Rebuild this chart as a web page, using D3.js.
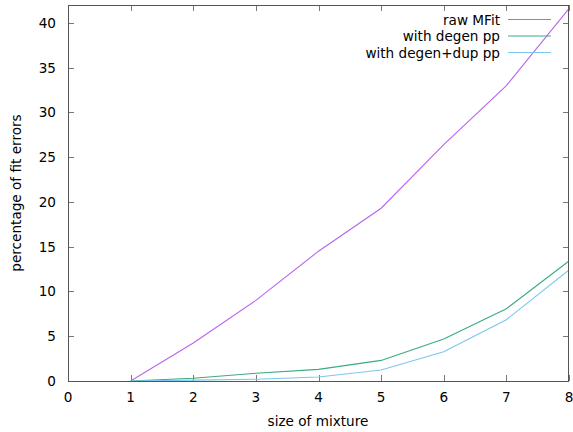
<!DOCTYPE html>
<html><head><meta charset="utf-8">
<script src="https://cdn.jsdelivr.net/npm/d3@7"></script>
<style>body{margin:0;background:#fff}svg{display:block}text{font-family:"DejaVu Sans",sans-serif;font-size:13.6px;fill:#000}</style>
</head><body><svg id="c" width="573" height="432"></svg>
<script>
const xs = [1,2,3,4,5,6,7,8];
const rawMFit = [0, 4.24, 9.0, 14.5, 19.3, 26.4, 33.0, 41.6];
const degenPP = [0, 0.3, 0.86, 1.3, 2.3, 4.7, 8.07, 13.4];
const degenDupPP = [0, 0.1, 0.2, 0.45, 1.23, 3.27, 6.85, 12.4];
const seriesNames = ["raw MFit","with degen pp","with degen+dup pp"];
const seriesColors = ["#b865ec","#3aab85","#7cc6ee"];
const xTicks = [0,1,2,3,4,5,6,7,8];
const yTicks = [0,5,10,15,20,25,30,35,40];

const svg = d3.select("#c");
const L=68, R=569, T=5, B=381;
const x = d3.scaleLinear().domain([0,8]).range([L,R]);
const y = d3.scaleLinear().domain([0,42]).range([B,T]);
const tl = 6;
const axc = "#555";
const g = svg.append("g").attr("stroke","#777").attr("stroke-width",1);
xTicks.forEach(t=>{
  const px = Math.round(x(t))+0.5;
  g.append("line").attr("x1",px).attr("x2",px).attr("y1",B).attr("y2",B-tl);
  g.append("line").attr("x1",px).attr("x2",px).attr("y1",T).attr("y2",T+tl);
});
yTicks.forEach(t=>{
  const py = Math.round(y(t))+0.5;
  g.append("line").attr("x1",L).attr("x2",L+tl).attr("y1",py).attr("y2",py);
  g.append("line").attr("x1",R).attr("x2",R-tl).attr("y1",py).attr("y2",py);
});
xTicks.forEach(t=>{
  svg.append("text").attr("x",x(t)).attr("y",B+21).attr("text-anchor","middle").text(t);
});
yTicks.forEach(t=>{
  svg.append("text").attr("x",L-12).attr("y",y(t)+5).attr("text-anchor","end").text(t);
});
const all=[rawMFit,degenPP,degenDupPP];
const line = d3.line().x((d,i)=>x(xs[i])).y(d=>y(d));
svg.append("clipPath").attr("id","cp").append("rect").attr("x",L).attr("y",T).attr("width",R-L).attr("height",B-T);
all.forEach((s,k)=>{
  svg.append("path").datum(s).attr("d",line).attr("fill","none").attr("stroke",seriesColors[k]).attr("stroke-width",1.1).attr("clip-path","url(#cp)");
});
svg.append("rect").attr("x",L+0.5).attr("y",T+0.5).attr("width",R-L-1).attr("height",B-T).attr("fill","none").attr("stroke",axc).attr("stroke-width",1);
const ly=[19.5,36,52.5];
seriesNames.forEach((n,k)=>{
  svg.append("text").attr("x",500).attr("y",ly[k]+5).attr("text-anchor","end").text(n);
  svg.append("line").attr("x1",508).attr("x2",551).attr("y1",ly[k]).attr("y2",ly[k]).attr("stroke",seriesColors[k]).attr("stroke-width",1.1);
});
svg.append("text").attr("x",318).attr("y",426).attr("text-anchor","middle").text("size of mixture");
svg.append("text").attr("transform","translate(21,193) rotate(-90)").attr("text-anchor","middle").text("percentage of fit errors");
</script></body></html>
